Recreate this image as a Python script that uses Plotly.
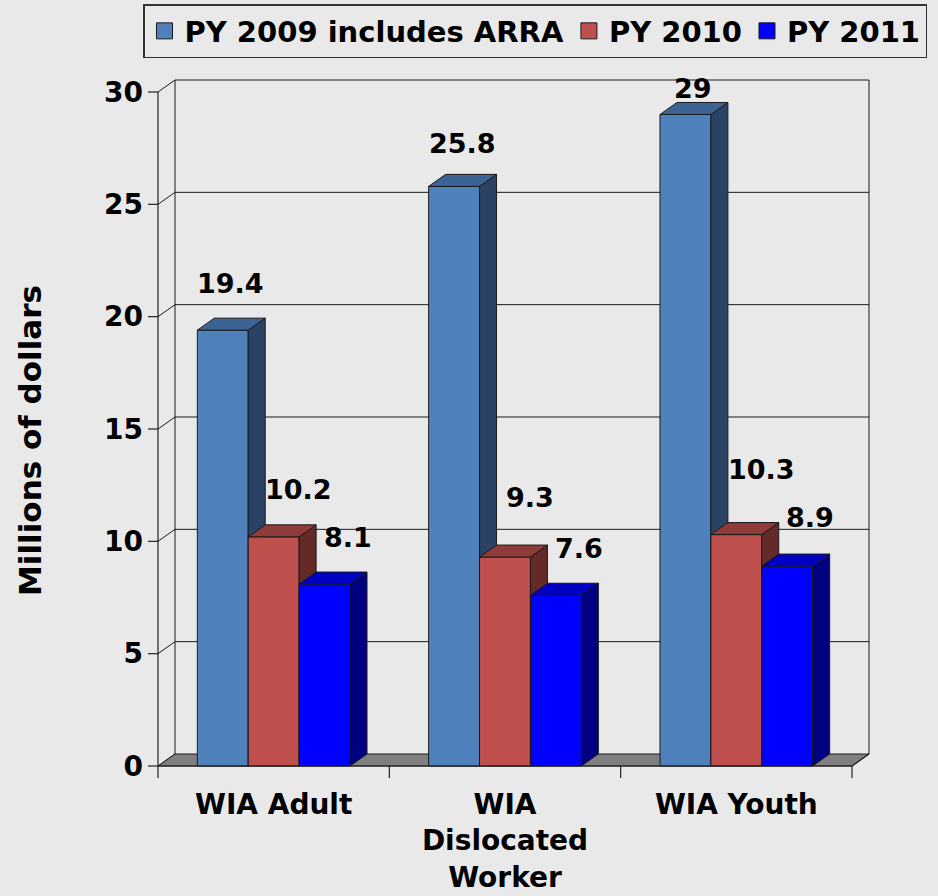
import plotly.graph_objects as go

# ---------------- data ----------------
categories = ["WIA Adult", "WIA<br>Dislocated<br>Worker", "WIA Youth"]
series_names = ["PY 2009 includes ARRA", "PY 2010", "PY 2011"]
py2009 = [19.4, 25.8, 29.0]
py2010 = [10.2, 9.3, 10.3]
py2011 = [8.1, 7.6, 8.9]
y_ticks = [0, 5, 10, 15, 20, 25, 30]
y_title = "Millions of dollars"

series_values = [py2009, py2010, py2011]

# ---------------- style ----------------
FRONT = ["#4f81bd", "#c0504d", "#0000ff"]
SIDE = ["#2a4263", "#632a28", "#000080"]
TOP = ["#3c6394", "#8e3b39", "#0000c4"]
BG = "#e9e9e9"
FONT = "DejaVu Sans"
EDGE = "#1a1a1a"

# pixel geometry helpers (front plane: 694 px for 3 categories, 674 px for 30 units)
PX_X = 694 / 3
PX_Y = 674 / 30
DX = 17 / PX_X          # depth offset (x)
DY = 12 / PX_Y          # depth offset (y)
BAR_W = 0.22
N_CAT = len(categories)
Y_MAX = y_ticks[-1]
PLOT_L, PLOT_T, PLOT_W, PLOT_H = 147, 78, 725, 702

# label nudges (px) per series / per point
LABEL_DX = [8, 25, 23]
LABEL_DY = [[47, 43, 26], [47, 60, 65], [47, 47, 49]]

fig = go.Figure()


def add_lines(xs, ys, color=EDGE, width=1):
    fig.add_trace(go.Scatter(x=xs, y=ys, mode="lines",
                             line=dict(color=color, width=width),
                             showlegend=False, hoverinfo="skip", cliponaxis=False))


def add_poly(xs, ys, fill, width=1):
    fig.add_trace(go.Scatter(x=xs, y=ys, mode="lines", fill="toself",
                             fillcolor=fill, line=dict(color=EDGE, width=width),
                             showlegend=False, hoverinfo="skip", cliponaxis=False))


# ---- back wall grid / walls ----
gx, gy = [], []
for v in y_ticks[1:]:
    gx += [DX, N_CAT + DX, None]
    gy += [v + DY, v + DY, None]
for v in y_ticks:
    gx += [0, DX, None]
    gy += [v, v + DY, None]
gx += [DX, DX, None, N_CAT + DX, N_CAT + DX, None]
gy += [DY, Y_MAX + DY, None, DY, Y_MAX + DY, None]
add_lines(gx, gy)

# ---- floor ----
add_poly([0, N_CAT, N_CAT + DX, DX, 0], [0, 0, DY, DY, 0], "#808080")

# ---- 3D bars ----
for s, vals in enumerate(series_values):
    fx, fy, sx, sy, tx, ty = [], [], [], [], [], []
    for c, v in enumerate(vals):
        x0 = c + 0.5 - 1.5 * BAR_W + s * BAR_W
        x1 = x0 + BAR_W
        fx += [x0, x1, x1, x0, x0, None]
        fy += [0, 0, v, v, 0, None]
        sx += [x1, x1 + DX, x1 + DX, x1, x1, None]
        sy += [0, DY, v + DY, v, 0, None]
        tx += [x0, x1, x1 + DX, x0 + DX, x0, None]
        ty += [v, v, v + DY, v + DY, v, None]
    add_poly(fx, fy, FRONT[s])
    add_poly(sx, sy, SIDE[s])
    add_poly(tx, ty, TOP[s])

# ---- front axes, tick marks ----
ax = [0, 0, None, 0, N_CAT, None, N_CAT, N_CAT + DX, None]
ay = [0, Y_MAX, None, 0, 0, None, 0, DY, None]
for v in y_ticks:
    ax += [-10 / PX_X, 0, None]
    ay += [v, v, None]
for c in range(N_CAT + 1):
    ax += [c, c, None]
    ay += [0, -12 / PX_Y, None]
add_lines(ax, ay, color="#222222", width=1.2)

# ---- legend entries ----
for s, name in enumerate(series_names):
    fig.add_trace(go.Scatter(x=[None], y=[None], mode="markers", name=name,
                             marker=dict(symbol="square", size=16, color=FRONT[s],
                                         line=dict(color=EDGE, width=1))))

# ---- data labels ----
for s, vals in enumerate(series_values):
    for c, v in enumerate(vals):
        xc = c + 0.5 - 1.5 * BAR_W + s * BAR_W + BAR_W / 2
        fig.add_annotation(x=xc, y=v, text=f"{v:g}", showarrow=False,
                           xanchor="center", yanchor="middle",
                           xshift=LABEL_DX[s], yshift=LABEL_DY[s][c],
                           font=dict(family=FONT, size=27, color="black", weight="bold"))

# ---- y axis title ----
fig.add_annotation(text=y_title, textangle=-90, showarrow=False,
                   xref="paper", yref="paper",
                   x=(30 - PLOT_L) / PLOT_W, y=1 - (441 - PLOT_T) / PLOT_H,
                   xanchor="center", yanchor="middle",
                   font=dict(family=FONT, size=31, color="black", weight="bold"))

fig.update_layout(
    width=938, height=896,
    margin=dict(l=PLOT_L, r=938 - PLOT_L - PLOT_W, t=PLOT_T, b=896 - PLOT_T - PLOT_H,
                pad=0, autoexpand=False),
    paper_bgcolor=BG, plot_bgcolor=BG,
    showlegend=True,
    legend=dict(orientation="h",
                x=-4 / PLOT_W, y=1 + (PLOT_T - 4) / PLOT_H, xanchor="left", yanchor="top",
                bgcolor="rgba(0,0,0,0)", bordercolor="#333333", borderwidth=1.5,
                font=dict(family=FONT, size=29, color="black", weight="bold"),
                itemsizing="trace", tracegroupgap=0),
    xaxis=dict(range=[-11 / PX_X, N_CAT + 20 / PX_X], showgrid=False, zeroline=False,
               showline=False, ticks="", tickvals=[c + 0.5 for c in range(N_CAT)],
               ticktext=categories, ticklabelstandoff=5,
               tickfont=dict(family=FONT, size=28, color="black", weight="bold"),
               fixedrange=True),
    yaxis=dict(range=[-14 / PX_Y, Y_MAX + 14 / PX_Y], showgrid=False, zeroline=False,
               showline=False, ticks="", tickvals=y_ticks, ticklabelstandoff=3,
               tickfont=dict(family=FONT, size=28, color="black", weight="bold"),
               fixedrange=True),
)

fig.write_html("out.html",
               config={"displayModeBar": False},
               post_script="document.body.style.margin='0px';document.body.style.background='" + BG + "';")
